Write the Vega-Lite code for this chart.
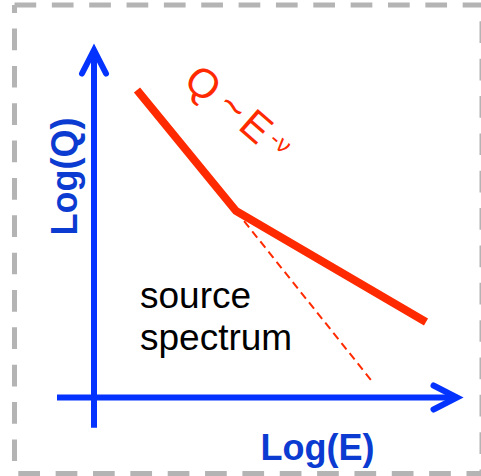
{
  "$schema": "https://vega.github.io/schema/vega-lite/v6.json",
  "width": 481,
  "height": 476,
  "autosize": {"type": "fit", "contains": "padding"},
  "padding": 0,
  "background": "white",
  "config": {"view": {"stroke": null}},
  "datasets": {
    "frame": [
      {"side": "top", "x": -1.9875, "y": 9.8125, "x2": 9.6875, "y2": 9.8125},
      {"side": "left", "x": -1.9875, "y": 9.8125, "x2": -1.9875, "y2": -1.9},
      {"side": "bottom", "x": -1.9875, "y": -1.9, "x2": 9.6875, "y2": -1.9},
      {"side": "right", "x": 9.7, "y": 9.8125, "x2": 9.7, "y2": -1.9}
    ],
    "shafts": [
      {"axis": "Q", "x": 0, "y": -0.755, "x2": 0, "y2": 8.6375},
      {"axis": "E", "x": -0.925, "y": 0, "x2": 9.025, "y2": 0}
    ],
    "heads": [
      {"axis": "Q", "i": 0, "x": -0.3, "y": 8.1},
      {"axis": "Q", "i": 1, "x": 0, "y": 8.6875},
      {"axis": "Q", "i": 2, "x": 0.3, "y": 8.1},
      {"axis": "E", "i": 0, "x": 8.4875, "y": 0.3},
      {"axis": "E", "i": 1, "x": 9.075, "y": 0},
      {"axis": "E", "i": 2, "x": 8.4875, "y": -0.3}
    ],
    "spectrum": [
      {"i": 0, "x": 1.075, "y": 7.6875},
      {"i": 1, "x": 3.55, "y": 4.6625},
      {"i": 2, "x": 8.3, "y": 1.8875}
    ],
    "extrapolation": [
      {"i": 0, "x": 3.55, "y": 4.6625},
      {"i": 1, "x": 6.925, "y": 0.4375}
    ],
    "law": [
      {"label": "Q", "x": 2.7, "y": 7.8125},
      {"label": "~", "x": 3.45, "y": 7.2375},
      {"label": "E", "x": 4.025, "y": 6.7375}
    ],
    "exponent": [
      {"label": "-ν", "x": 4.65, "y": 6.3625}
    ],
    "caption": [
      {"label": "source", "x": 1.15, "y": 2.2375},
      {"label": "spectrum", "x": 1.15, "y": 1.1875}
    ],
    "xtitle": [{"label": "Log(E)", "x": 5.5875, "y": -1.5625}],
    "ytitle": [{"label": "Log(Q)", "x": -0.425, "y": 5.525}]
  },
  "encoding": {
    "x": {"field": "x", "type": "quantitative", "axis": null,
          "scale": {"domain": [-2.35, 9.675], "nice": false, "zero": false}},
    "y": {"field": "y", "type": "quantitative", "axis": null,
          "scale": {"domain": [-1.9625, 9.9375], "nice": false, "zero": false}}
  },
  "layer": [
    {
      "data": {"name": "frame"},
      "transform": [{"filter": "datum.side === 'top'"}],
      "mark": {"type": "rule", "color": "#b4b4b4", "strokeWidth": 5, "strokeDash": [21.7, 15.65], "strokeDashOffset": 0, "clip": true},
      "encoding": {"x2": {"field": "x2"}, "y2": {"field": "y2"}}
    },
    {
      "data": {"name": "frame"},
      "transform": [{"filter": "datum.side === 'left'"}],
      "mark": {"type": "rule", "color": "#b4b4b4", "strokeWidth": 5, "strokeDash": [21.7, 15.65], "strokeDashOffset": 13.8, "clip": true},
      "encoding": {"x2": {"field": "x2"}, "y2": {"field": "y2"}}
    },
    {
      "data": {"name": "frame"},
      "transform": [{"filter": "datum.side === 'bottom'"}],
      "mark": {"type": "rule", "color": "#b4b4b4", "strokeWidth": 5, "strokeDash": [21.7, 15.65], "strokeDashOffset": 33.55, "clip": true},
      "encoding": {"x2": {"field": "x2"}, "y2": {"field": "y2"}}
    },
    {
      "data": {"name": "frame"},
      "transform": [{"filter": "datum.side === 'right'"}],
      "mark": {"type": "rule", "color": "#b4b4b4", "strokeWidth": 5, "strokeDash": [21.7, 15.65], "strokeDashOffset": 21, "clip": true},
      "encoding": {"x2": {"field": "x2"}, "y2": {"field": "y2"}}
    },
    {
      "data": {"name": "shafts"},
      "mark": {"type": "rule", "color": "#0433ff", "strokeWidth": 6, "strokeCap": "butt"},
      "encoding": {"x2": {"field": "x2"}, "y2": {"field": "y2"}}
    },
    {
      "data": {"name": "heads"},
      "mark": {"type": "line", "color": "#0433ff", "strokeWidth": 6, "strokeCap": "round", "strokeJoin": "miter"},
      "encoding": {"detail": {"field": "axis"}, "order": {"field": "i"}}
    },
    {
      "data": {"name": "extrapolation"},
      "mark": {"type": "line", "color": "#ff2a00", "strokeWidth": 2, "strokeDash": [8, 5]},
      "encoding": {"order": {"field": "i"}}
    },
    {
      "data": {"name": "spectrum"},
      "mark": {"type": "line", "color": "#ff2a00", "strokeWidth": 8, "strokeCap": "butt", "strokeJoin": "miter"},
      "encoding": {"order": {"field": "i"}}
    },
    {
      "data": {"name": "law"},
      "mark": {"type": "text", "color": "#ff2a00", "font": "Liberation Sans", "fontSize": 41, "angle": 41, "align": "center", "baseline": "middle"},
      "encoding": {"text": {"field": "label"}}
    },
    {
      "data": {"name": "exponent"},
      "mark": {"type": "text", "color": "#ff2a00", "font": "Liberation Sans", "fontSize": 24, "angle": 41, "align": "center", "baseline": "middle"},
      "encoding": {"text": {"field": "label"}}
    },
    {
      "data": {"name": "caption"},
      "mark": {"type": "text", "color": "black", "font": "Liberation Sans", "fontSize": 37, "align": "left", "baseline": "alphabetic"},
      "encoding": {"text": {"field": "label"}}
    },
    {
      "data": {"name": "xtitle"},
      "mark": {"type": "text", "color": "#0b3bd0", "font": "Liberation Sans", "fontWeight": "bold", "fontSize": 36, "align": "center", "baseline": "alphabetic"},
      "encoding": {"text": {"field": "label"}}
    },
    {
      "data": {"name": "ytitle"},
      "mark": {"type": "text", "color": "#0b3bd0", "font": "Liberation Sans", "fontWeight": "bold", "fontSize": 36, "angle": 270, "align": "center", "baseline": "alphabetic"},
      "encoding": {"text": {"field": "label"}}
    }
  ]
}
